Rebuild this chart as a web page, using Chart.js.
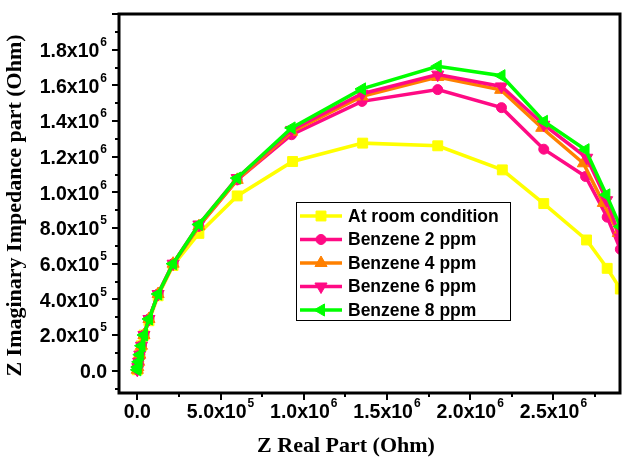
<!DOCTYPE html>
<html>
<head>
<meta charset="utf-8">
<script src="https://cdn.jsdelivr.net/npm/chart.js@4/dist/chart.umd.min.js"></script>
<style>
  html, body { margin: 0; padding: 0; background: #ffffff; }
  #wrap { width: 628px; height: 457px; }
</style>
</head>
<body>
<div id="wrap"><canvas id="nyquist" width="628" height="457"></canvas></div>
<script>
// Nyquist plot: real part (x) vs imaginary part (y) of impedance, in Ohm
const seriesNames = ['At room condition', 'Benzene 2 ppm', 'Benzene 4 ppm', 'Benzene 6 ppm', 'Benzene 8 ppm'];

const roomX = [0, 3e3, 8e3, 1.5e4, 2.5e4, 4e4, 7e4, 1.25e5, 2.15e5, 3.7e5, 6.0e5, 9.33e5, 1.354e6, 1.805e6, 2.193e6, 2.442e6, 2.699e6, 2.823e6, 2.902e6];
const roomY = [5e3, 2e4, 5e4, 9e4, 1.4e5, 2.0e5, 2.8e5, 4.2e5, 5.9e5, 7.7e5, 9.8e5, 1.173e6, 1.276e6, 1.261e6, 1.126e6, 9.37e5, 7.33e5, 5.74e5, 4.58e5];

const bz2X = [0, 3e3, 8e3, 1.5e4, 2.5e4, 4e4, 7e4, 1.25e5, 2.15e5, 3.7e5, 6.0e5, 9.27e5, 1.350e6, 1.805e6, 2.188e6, 2.442e6, 2.693e6, 2.823e6, 2.902e6];
const bz2Y = [5e3, 2e4, 5e4, 9e4, 1.4e5, 2.0e5, 2.9e5, 4.3e5, 6.0e5, 8.1e5, 1.07e6, 1.323e6, 1.510e6, 1.576e6, 1.475e6, 1.242e6, 1.089e6, 8.61e5, 6.81e5];

const bz4X = [0, 3e3, 8e3, 1.5e4, 2.5e4, 4e4, 7e4, 1.25e5, 2.15e5, 3.7e5, 6.0e5, 9.27e5, 1.350e6, 1.805e6, 2.183e6, 2.430e6, 2.680e6, 2.800e6, 2.890e6];
const bz4Y = [5e3, 2e4, 5e4, 9e4, 1.4e5, 2.0e5, 2.9e5, 4.3e5, 6.0e5, 8.1e5, 1.07e6, 1.340e6, 1.538e6, 1.647e6, 1.575e6, 1.362e6, 1.163e6, 9.41e5, 7.72e5];

const bz6X = [0, 3e3, 8e3, 1.5e4, 2.5e4, 4e4, 7e4, 1.25e5, 2.15e5, 3.7e5, 6.0e5, 9.27e5, 1.350e6, 1.805e6, 2.188e6, 2.442e6, 2.700e6, 2.820e6, 2.900e6];
const bz6Y = [5e3, 2e4, 5e4, 9e4, 1.4e5, 2.0e5, 2.9e5, 4.3e5, 6.0e5, 8.2e5, 1.08e6, 1.350e6, 1.553e6, 1.660e6, 1.594e6, 1.379e6, 1.194e6, 9.56e5, 7.47e5];

const bz8X = [0, 3e3, 8e3, 1.5e4, 2.5e4, 4e4, 7e4, 1.25e5, 2.15e5, 3.7e5, 6.0e5, 9.27e5, 1.350e6, 1.805e6, 2.188e6, 2.443e6, 2.693e6, 2.818e6, 2.902e6];
const bz8Y = [5e3, 2e4, 5e4, 9e4, 1.4e5, 2.0e5, 2.9e5, 4.3e5, 6.0e5, 8.2e5, 1.08e6, 1.361e6, 1.580e6, 1.707e6, 1.654e6, 1.398e6, 1.239e6, 9.86e5, 8.08e5];

// axis tick labels (mantissa part and power of ten)
const xTickValues = [0, 5e5, 1e6, 1.5e6, 2e6, 2.5e6];
const xTickText   = ['0.0', '5.0x10', '1.0x10', '1.5x10', '2.0x10', '2.5x10'];
const xTickPower  = ['', '5', '6', '6', '6', '6'];
const yTickValues = [0, 2e5, 4e5, 6e5, 8e5, 1e6, 1.2e6, 1.4e6, 1.6e6, 1.8e6];
const yTickText   = ['0.0', '2.0x10', '4.0x10', '6.0x10', '8.0x10', '1.0x10', '1.2x10', '1.4x10', '1.6x10', '1.8x10'];
const yTickPower  = ['', '5', '5', '5', '5', '6', '6', '6', '6', '6'];

const xTitle = 'Z Real Part (Ohm)';
const yTitle = 'Z Imaginary Impedance part (Ohm)';

const styles = [
  { color: '#FFFF00', pointStyle: 'rect',     radius: 7, rotation: 0 },
  { color: '#FF0A84', pointStyle: 'circle',   radius: 5, rotation: 0 },
  { color: '#FF8000', pointStyle: 'triangle', radius: 7, rotation: 0 },
  { color: '#FF0A84', pointStyle: 'triangle', radius: 7, rotation: 180 },
  { color: '#00FF00', pointStyle: 'triangle', radius: 7, rotation: 270 }
];

const xs = [roomX, bz2X, bz4X, bz6X, bz8X];
const ys = [roomY, bz2Y, bz4Y, bz6Y, bz8Y];

const datasets = seriesNames.map((name, i) => ({
  label: name,
  data: xs[i].map((x, k) => ({ x: x, y: ys[i][k] })),
  borderColor: styles[i].color,
  backgroundColor: styles[i].color,
  borderWidth: 3.5,
  pointStyle: styles[i].pointStyle,
  pointRadius: styles[i].radius,
  pointRotation: styles[i].rotation,
  pointBorderWidth: 1,
  pointBackgroundColor: styles[i].color,
  pointBorderColor: styles[i].color,
  showLine: true,
  tension: 0,
  clip: 0,
  order: seriesNames.length - i
}));

const TICK_FONT = 'bold 19.5px "Liberation Sans", Arial, sans-serif';
const SUP_FONT = 'bold 12px "Liberation Sans", Arial, sans-serif';

function sciWidth(ctx, text, power) {
  ctx.font = TICK_FONT;
  let w = ctx.measureText(text).width;
  if (power) { ctx.font = SUP_FONT; w += ctx.measureText(power).width + 1; }
  return w;
}
function drawSci(ctx, text, power, left, midY) {
  ctx.textBaseline = 'middle';
  ctx.textAlign = 'left';
  ctx.font = TICK_FONT;
  ctx.fillText(text, left, midY);
  if (power) {
    const w = ctx.measureText(text).width;
    ctx.font = SUP_FONT;
    ctx.fillText(power, left + w + 1, midY - 9);
  }
}

const framePlugin = {
  id: 'frameAndTicks',
  afterDatasetsDraw(chart) {
    const ctx = chart.ctx;
    const a = chart.chartArea;
    const xs = chart.scales.x, ys = chart.scales.y;
    ctx.save();
    ctx.fillStyle = '#000';
    ctx.strokeStyle = '#000';
    // frame
    ctx.lineWidth = 3;
    ctx.strokeRect(a.left, a.top, a.right - a.left, a.bottom - a.top);
    ctx.lineWidth = 2;
    // x ticks: major every 5e5, minor every 2.5e5
    for (let v = 0; v <= xs.max; v += 2.5e5) {
      const px = Math.round(xs.getPixelForValue(v));
      const major = Math.abs(v / 5e5 - Math.round(v / 5e5)) < 1e-6;
      ctx.beginPath();
      ctx.moveTo(px, a.bottom);
      ctx.lineTo(px, a.bottom + (major ? 7 : 4));
      ctx.stroke();
    }
    // y ticks: major every 2e5, minor every 1e5
    for (let v = -1e5; v <= ys.max; v += 1e5) {
      const py = Math.round(ys.getPixelForValue(v));
      const major = Math.abs(v / 2e5 - Math.round(v / 2e5)) < 1e-6;
      ctx.beginPath();
      ctx.moveTo(a.left, py);
      ctx.lineTo(a.left - (major ? 7 : 4), py);
      ctx.stroke();
    }
    // tick labels
    xTickValues.forEach((v, i) => {
      const px = xs.getPixelForValue(v);
      const w = sciWidth(ctx, xTickText[i], xTickPower[i]);
      drawSci(ctx, xTickText[i], xTickPower[i], px - w / 2, a.bottom + 20);
    });
    yTickValues.forEach((v, i) => {
      const py = ys.getPixelForValue(v);
      const w = sciWidth(ctx, yTickText[i], yTickPower[i]);
      drawSci(ctx, yTickText[i], yTickPower[i], a.left - 12 - w, py + 2);
    });
    // axis titles
    ctx.font = 'bold 22px "Liberation Serif", "Times New Roman", serif';
    ctx.textAlign = 'center';
    ctx.textBaseline = 'middle';
    ctx.fillText(xTitle, 346, 446);
    ctx.save();
    ctx.translate(15, (a.top + a.bottom) / 2 + 2);
    ctx.rotate(-Math.PI / 2);
    ctx.fillText(yTitle, 0, 0);
    ctx.restore();
    ctx.restore();
  },
  afterDraw(chart) {
    // legend box inside the plot
    const ctx = chart.ctx;
    const box = { left: 296, top: 202, right: 510, bottom: 320 };
    ctx.save();
    ctx.fillStyle = '#fff';
    ctx.fillRect(box.left, box.top, box.right - box.left, box.bottom - box.top);
    ctx.strokeStyle = '#000';
    ctx.lineWidth = 1;
    ctx.strokeRect(box.left + 0.5, box.top + 0.5, box.right - box.left, box.bottom - box.top);
    chart.data.datasets.forEach((ds, i) => {
      const y = 216 + i * 23.5;
      ctx.strokeStyle = ds.borderColor;
      ctx.fillStyle = ds.backgroundColor;
      ctx.lineWidth = 3.5;
      ctx.beginPath();
      ctx.moveTo(300, y);
      ctx.lineTo(342, y);
      ctx.stroke();
      ctx.lineWidth = 1;
      Chart.helpers.drawPoint(ctx, {
        pointStyle: ds.pointStyle, radius: ds.pointRadius, rotation: ds.pointRotation, borderWidth: 1
      }, 321, y);
      ctx.fillStyle = '#000';
      ctx.font = 'bold 17.5px "Liberation Sans", Arial, sans-serif';
      ctx.textAlign = 'left';
      ctx.textBaseline = 'middle';
      ctx.fillText(ds.label, 348, y + 1);
    });
    ctx.restore();
  }
};

new Chart(document.getElementById('nyquist'), {
  type: 'scatter',
  data: { datasets: datasets },
  options: {
    responsive: false,
    animation: false,
    layout: { padding: { left: 119, top: 14, right: 3, bottom: 64 } },
    scales: {
      x: { type: 'linear', min: -1.1e5, max: 2.9e6, display: false },
      y: { type: 'linear', min: -1.25e5, max: 2.0e6, display: false }
    },
    plugins: { legend: { display: false }, tooltip: { enabled: false } }
  },
  plugins: [framePlugin]
});
</script>
</body>
</html>
